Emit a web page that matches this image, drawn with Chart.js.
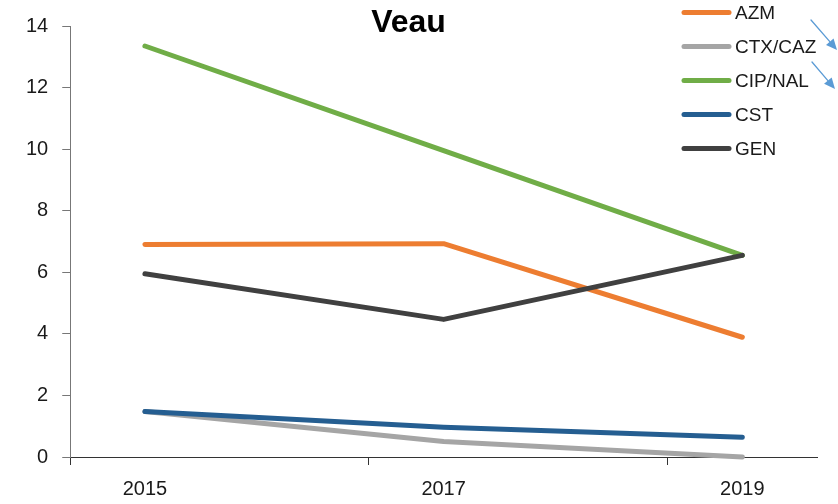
<!DOCTYPE html>
<html>
<head>
<meta charset="utf-8">
<title>Veau</title>
<script src="https://cdn.jsdelivr.net/npm/chart.js@4/dist/chart.umd.min.js"></script>
<style>
  html, body { margin: 0; padding: 0; background: #fff; }
  #wrap { width: 838px; height: 504px; }
</style>
</head>
<body>
<div id="wrap"><canvas id="chart"></canvas></div>
<script>
// data
const years = [2015, 2017, 2019];
const azm = [6.90, 6.93, 3.89];
const ctxCaz = [1.48, 0.50, 0.00];
const cipNal = [13.35, 9.95, 6.55];
const cst = [1.48, 0.97, 0.64];
const gen = [5.95, 4.47, 6.55];
const seriesLabels = ['AZM', 'CTX/CAZ', 'CIP/NAL', 'CST', 'GEN'];
// tick marks of the x axis sit between the years
const xTickMarks = [2014.5, 2016.5, 2018.5];

const FONT = '"Liberation Sans", Arial, sans-serif';

function toPoints(values) {
  return years.map((yr, i) => ({ x: yr, y: values[i] }));
}

function makeLine(label, values, color, order) {
  return {
    label: label,
    data: toPoints(values),
    borderColor: color,
    backgroundColor: color,
    borderWidth: 5,
    borderCapStyle: 'round',
    borderJoinStyle: 'round',
    pointRadius: 0,
    tension: 0,
    clip: 8,
    order: order
  };
}

// legend drawn on the plot area, top right, plus the two small blue arrows
const sideLegend = {
  id: 'sideLegend',
  afterDraw(chart) {
    const c = chart.ctx;
    const x0 = chart.chartArea.right - 136;
    c.save();
    chart.data.datasets.forEach((ds, i) => {
      const y = 12.5 + i * 34;
      c.strokeStyle = ds.borderColor;
      c.lineWidth = 5;
      c.lineCap = 'round';
      c.beginPath();
      c.moveTo(x0 + 3, y);
      c.lineTo(x0 + 48, y);
      c.stroke();
      c.fillStyle = '#1a1a1a';
      c.font = '19px ' + FONT;
      c.textBaseline = 'middle';
      c.textAlign = 'left';
      c.fillText(ds.label, x0 + 54, y + 1);
    });

    // arrows pointing down to the right of CTX/CAZ and CIP/NAL
    const arrows = [[811, 20, 837, 50], [812, 62, 835, 89]];
    c.strokeStyle = '#5B9BD5';
    c.fillStyle = '#5B9BD5';
    c.lineWidth = 1.3;
    arrows.forEach(a => {
      const ang = Math.atan2(a[3] - a[1], a[2] - a[0]);
      const hl = 11, hw = 5;
      const bx = a[2] - hl * Math.cos(ang), by = a[3] - hl * Math.sin(ang);
      c.beginPath();
      c.moveTo(a[0], a[1]);
      c.lineTo(bx, by);
      c.stroke();
      c.beginPath();
      c.moveTo(a[2], a[3]);
      c.lineTo(bx + hw * Math.sin(ang), by - hw * Math.cos(ang));
      c.lineTo(bx - hw * Math.sin(ang), by + hw * Math.cos(ang));
      c.closePath();
      c.fill();
    });
    c.restore();
  }
};

new Chart(document.getElementById('chart'), {
  type: 'line',
  data: {
    datasets: [
      makeLine(seriesLabels[0], azm, '#ED7D31', 5),
      makeLine(seriesLabels[1], ctxCaz, '#A5A5A5', 4),
      makeLine(seriesLabels[2], cipNal, '#70AD47', 3),
      makeLine(seriesLabels[3], cst, '#255E91', 2),
      makeLine(seriesLabels[4], gen, '#404040', 1)
    ]
  },
  options: {
    responsive: true,
    maintainAspectRatio: false,
    animation: false,
    devicePixelRatio: 1,
    events: [],
    layout: { padding: { left: 0, right: 21, top: 0, bottom: -9 } },
    plugins: {
      legend: { display: false },
      tooltip: { enabled: false },
      title: {
        display: true,
        text: 'Veau',
        color: '#000',
        font: { family: FONT, size: 32, weight: 'bold' },
        padding: { top: 3, bottom: -16.4 }
      }
    },
    scales: {
      x: {
        type: 'linear',
        min: 2014.5,
        max: 2019.5,
        afterBuildTicks: (scale) => {
          scale.ticks = xTickMarks.concat(years).sort((a, b) => a - b).map(v => ({ value: v }));
        },
        ticks: {
          autoSkip: false,
          maxRotation: 0,
          padding: 12,
          color: '#1a1a1a',
          font: { family: FONT, size: 20 },
          callback: (v) => Number.isInteger(v) ? String(v) : ''
        },
        grid: {
          drawOnChartArea: false,
          tickLength: 8,
          tickColor: (c) => (c.tick && Number.isInteger(c.tick.value)) ? 'rgba(0,0,0,0)' : '#333'
        },
        border: { color: '#333', width: 1 }
      },
      y: {
        min: 0,
        max: 14,
        afterFit: (scale) => { scale.width += 12; },
        ticks: {
          stepSize: 2,
          padding: 14,
          color: '#1a1a1a',
          font: { family: FONT, size: 20 }
        },
        grid: { drawOnChartArea: false, tickLength: 8, tickColor: '#777' },
        border: { color: '#777', width: 1 }
      }
    }
  },
  plugins: [sideLegend]
});
</script>
</body>
</html>
